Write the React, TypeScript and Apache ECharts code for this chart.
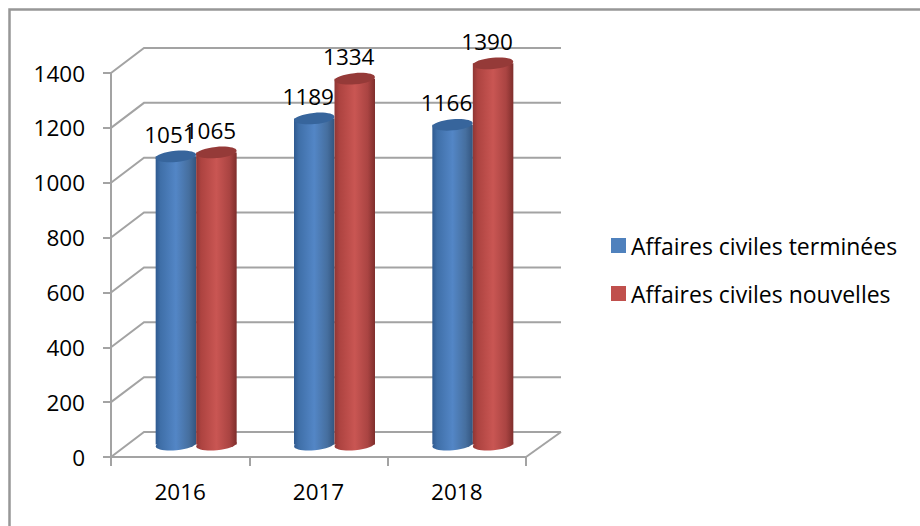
import React, { useEffect, useRef } from "react";
import * as echarts from "echarts";

const categories = ["2016", "2017", "2018"];
const seriesNames = ["Affaires civiles terminées", "Affaires civiles nouvelles"];
const termineesValues = [1051, 1189, 1166];
const nouvellesValues = [1065, 1334, 1390];
const yMax = 1400;
const yStep = 200;
const gridTicks = [0, 200, 400, 600, 800, 1000, 1200, 1400];

const FONT = "'Open Sans', sans-serif";
const GRID = "#a3a3a3";
const BLUE = "#4f81bd";
const RED = "#c0504d";
const DEPTH_X = 33;
const DEPTH_Y = -25;
const MID_X = 16;
const MID_Y = -12.4;
const BAR_W = 40.5;
const RY = 5.6;
const TILT = 0.09;

const grad = (stops: string[]) => ({
  type: "linear",
  x: 0,
  y: 0,
  x2: 1,
  y2: 0,
  colorStops: [
    { offset: 0, color: stops[0] },
    { offset: 0.12, color: stops[1] },
    { offset: 0.5, color: stops[2] },
    { offset: 0.82, color: stops[3] },
    { offset: 1, color: stops[4] },
  ],
});

const blueGrad = grad(["#2f5a90", "#3f6fa8", "#5386c6", "#466f9f", "#33557f"]);
const redGrad = grad(["#8f3634", "#ad4340", "#c95653", "#aa4442", "#7f2e2c"]);

function cylinderItem(seriesIndex: number, colors: any, top: string) {
  return (params: any, api: any) => {
    const catIdx = api.value(0);
    const val = api.value(1);
    const tip = api.coord([catIdx, val]);
    const base = api.coord([catIdx, 0]);
    const cx =
      tip[0] + MID_X + (seriesIndex === 0 ? -BAR_W / 2 : BAR_W / 2);
    const yTop = tip[1] + MID_Y;
    const yBase = base[1] + MID_Y;
    const rx = BAR_W / 2;
    return {
      type: "group",
      children: [
        {
          type: "ellipse",
          x: cx,
          y: yBase,
          rotation: TILT,
          shape: { cx: 0, cy: 0, rx, ry: RY },
          style: { fill: colors },
        },
        {
          type: "rect",
          shape: { x: cx - rx, y: yTop, width: BAR_W, height: yBase - yTop },
          style: { fill: colors },
        },
        {
          type: "ellipse",
          x: cx,
          y: yTop,
          rotation: TILT,
          shape: { cx: 0, cy: 0, rx, ry: RY },
          style: { fill: top },
        },
        {
          type: "text",
          x: cx - 6,
          y: yTop - 22,
          z2: 10,
          style: {
            text: String(val),
            fill: "#000000",
            font: `22.5px ${FONT}`,
            align: "center",
            verticalAlign: "middle",
          },
        },
      ],
    };
  };
}

function wallItem(params: any, api: any) {
  const val = api.value(1);
  const band = api.size([1, 0])[0];
  const first = api.coord([0, val]);
  const last = api.coord([categories.length - 1, val]);
  const sx = first[0] - band / 2;
  const ex = last[0] + band / 2;
  const y = first[1];
  const isFloor = val === 0;
  const lineStyle = { stroke: GRID, lineWidth: 2, fill: "none" };
  const children: any[] = [
    {
      type: "polyline",
      shape: {
        points: [
          [sx, y],
          [sx + DEPTH_X, y + DEPTH_Y],
          [ex + DEPTH_X + 2, y + DEPTH_Y],
        ],
      },
      style: lineStyle,
    },
  ];
  if (isFloor) {
    children.push({
      type: "line",
      shape: { x1: ex, y1: y, x2: ex + DEPTH_X + 2, y2: y + DEPTH_Y },
      style: lineStyle,
    });
  }
  return { type: "group", children };
}

export default function App() {
  const ref = useRef<HTMLDivElement>(null);
  useEffect(() => {
    if (!ref.current) return;
    const chart = echarts.init(ref.current, undefined, { renderer: "svg" });
    chart.setOption({
      animation: false,
      backgroundColor: "#ffffff",
      grid: { left: 111, top: 73, width: 415, height: 384, containLabel: false },
      xAxis: {
        type: "category",
        data: categories,
        axisLine: { show: true, lineStyle: { color: GRID, width: 2 } },
        axisTick: { show: true, length: 9, alignWithLabel: false, lineStyle: { color: GRID, width: 2 } },
        axisLabel: { color: "#000000", fontFamily: FONT, fontSize: 22.5, margin: 23 },
        splitLine: { show: false },
      },
      yAxis: {
        type: "value",
        min: 0,
        max: yMax,
        interval: yStep,
        axisLine: { show: true, lineStyle: { color: GRID, width: 2 } },
        axisTick: { show: true, length: 8, lineStyle: { color: GRID, width: 2 } },
        axisLabel: {
          color: "#000000",
          fontFamily: FONT,
          fontSize: 22.5,
          margin: 26,
          padding: [7, 0, 0, 0],
          formatter: (v: number) => String(v),
        },
        splitLine: { show: false },
      },
      legend: {
        orient: "vertical",
        left: 606,
        top: 229,
        icon: "rect",
        itemWidth: 15,
        itemHeight: 15,
        itemGap: 25,
        padding: 5,
        selectedMode: false,
        textStyle: { color: "#000000", fontFamily: FONT, fontSize: 23 },
        data: [
          { name: seriesNames[0], itemStyle: { color: BLUE } },
          { name: seriesNames[1], itemStyle: { color: RED } },
        ],
      },
      graphic: [
        {
          type: "polyline",
          silent: true,
          shape: { points: [[9.5, 526], [9.5, 9.5], [920, 9.5]] },
          style: { stroke: "#979797", lineWidth: 2.5, fill: "none" },
        },
      ],
      series: [
        {
          type: "custom",
          name: "walls",
          coordinateSystem: "cartesian2d",
          encode: { x: 0, y: 1 },
          data: gridTicks.map((t) => [0, t]),
          renderItem: wallItem,
          silent: true,
          z: 1,
        },
        {
          type: "custom",
          name: seriesNames[0],
          coordinateSystem: "cartesian2d",
          itemStyle: { color: BLUE },
          encode: { x: 0, y: 1 },
          data: termineesValues.map((v, i) => [i, v]),
          renderItem: cylinderItem(0, blueGrad, "#37659c"),
          z: 3,
        },
        {
          type: "custom",
          name: seriesNames[1],
          coordinateSystem: "cartesian2d",
          itemStyle: { color: RED },
          encode: { x: 0, y: 1 },
          data: nouvellesValues.map((v, i) => [i, v]),
          renderItem: cylinderItem(1, redGrad, "#953a38"),
          z: 4,
        },
      ],
    });
    return () => chart.dispose();
  }, []);
  return (
    <div
      ref={ref}
      style={{ position: "fixed", left: 0, top: 0, width: 920, height: 526 }}
    />
  );
}
